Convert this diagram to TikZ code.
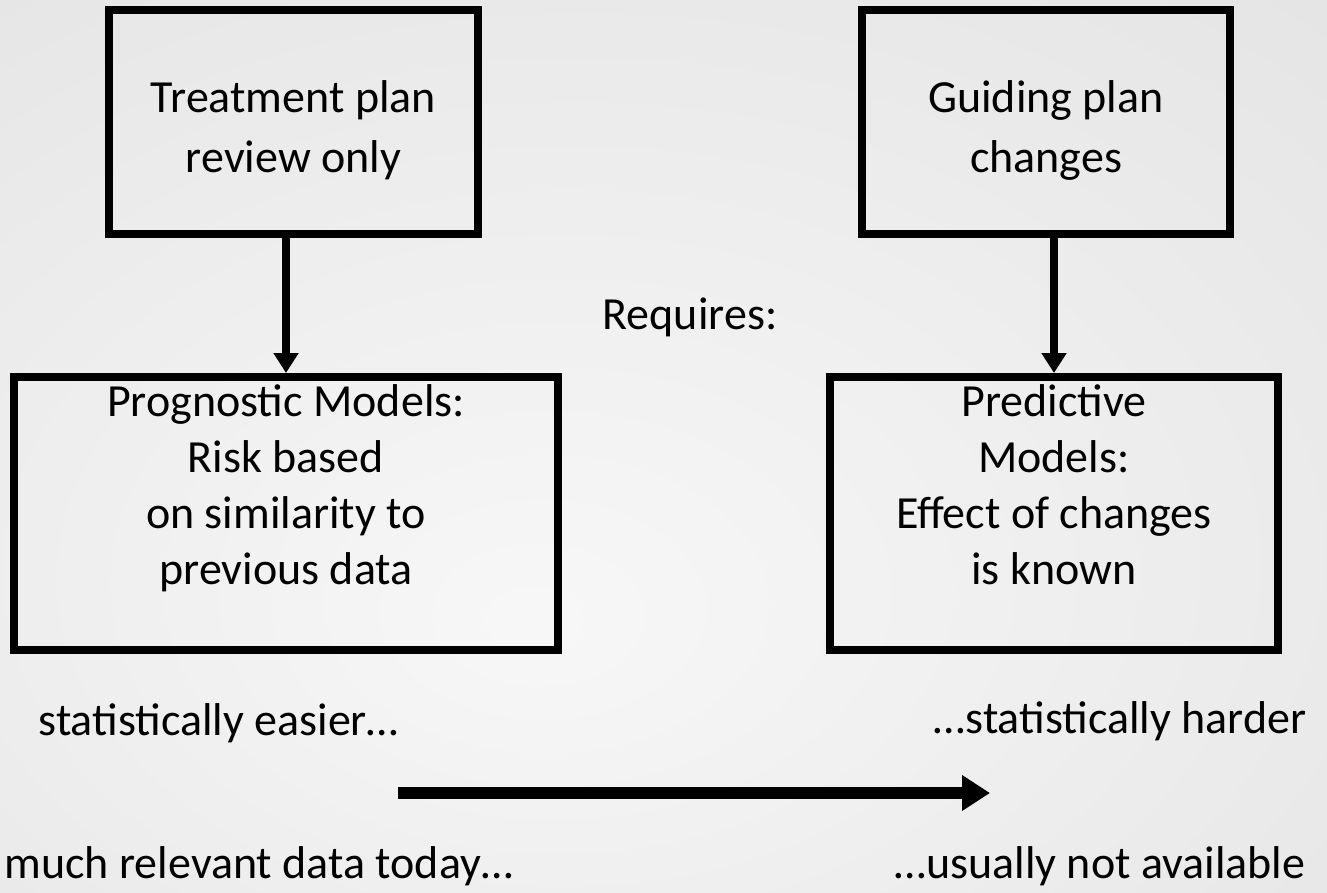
\documentclass[tikz,border=0pt]{standalone}
\usepackage{fontspec}
\setmainfont{Carlito}
\usetikzlibrary{arrows.meta}
\pgfdeclareradialshading{slideglow}{\pgfpoint{-5bp}{-10bp}}{color(0bp)=(white!97!black); color(72bp)=(white!84!black)}
\tikzset{
  planbox/.style={draw, line width=8pt, align=center, inner sep=0pt, text depth=0pt},
  flowarrow/.style={line width=8pt, -{Triangle[length=20pt,width=24pt]}},
  trendarrow/.style={line width=12pt, -{Triangle[length=28pt,width=34pt]}},
}
\begin{document}
\begin{tikzpicture}[x=1pt, y=-1pt, font=\fontsize{46}{56}\selectfont]
  \shade[shading=slideglow] (0,0) rectangle (1327,892);
  \useasboundingbox (0,0) rectangle (1327,892);
  \node[planbox, minimum width=369pt, minimum height=224pt, text height=100pt, font=\fontsize{46}{60}\selectfont] (review) at (293.5,122) {Treatment plan\\review only};
  \node[planbox, minimum width=368pt, minimum height=224pt, text height=100pt, font=\fontsize{46}{60}\selectfont] (guiding) at (1046,122) {Guiding plan\\changes};
  \node[planbox, minimum width=544pt, minimum height=273pt, text height=141pt] (prognostic) at (286,513.5) {Prognostic Models:\\Risk based\\on similarity to\\previous data};
  \node[planbox, minimum width=448pt, minimum height=273pt, text height=141pt] (predictive) at (1054,513.5) {Predictive\\Models:\\Effect of changes\\is known};
  \draw[flowarrow] (review.south -| prognostic.north) -- (prognostic.north);
  \draw[flowarrow] (guiding.south -| predictive.north) -- (predictive.north);
  \node (requires) at (690,317) {Requires:};
  \node[anchor=west] (easier) at (35,723) {statistically easier…};
  \node[anchor=east] (harder) at (1310,721) {…statistically harder};
  \node[anchor=west] (today) at (1,866) {much relevant data today…};
  \node[anchor=east] (unavailable) at (1309,866) {…usually not available};
  \coordinate (trendstart) at (398,793);
  \coordinate (trendend) at (990,793);
  \draw[trendarrow] (trendstart) -- (trendend);
\end{tikzpicture}
\end{document}
